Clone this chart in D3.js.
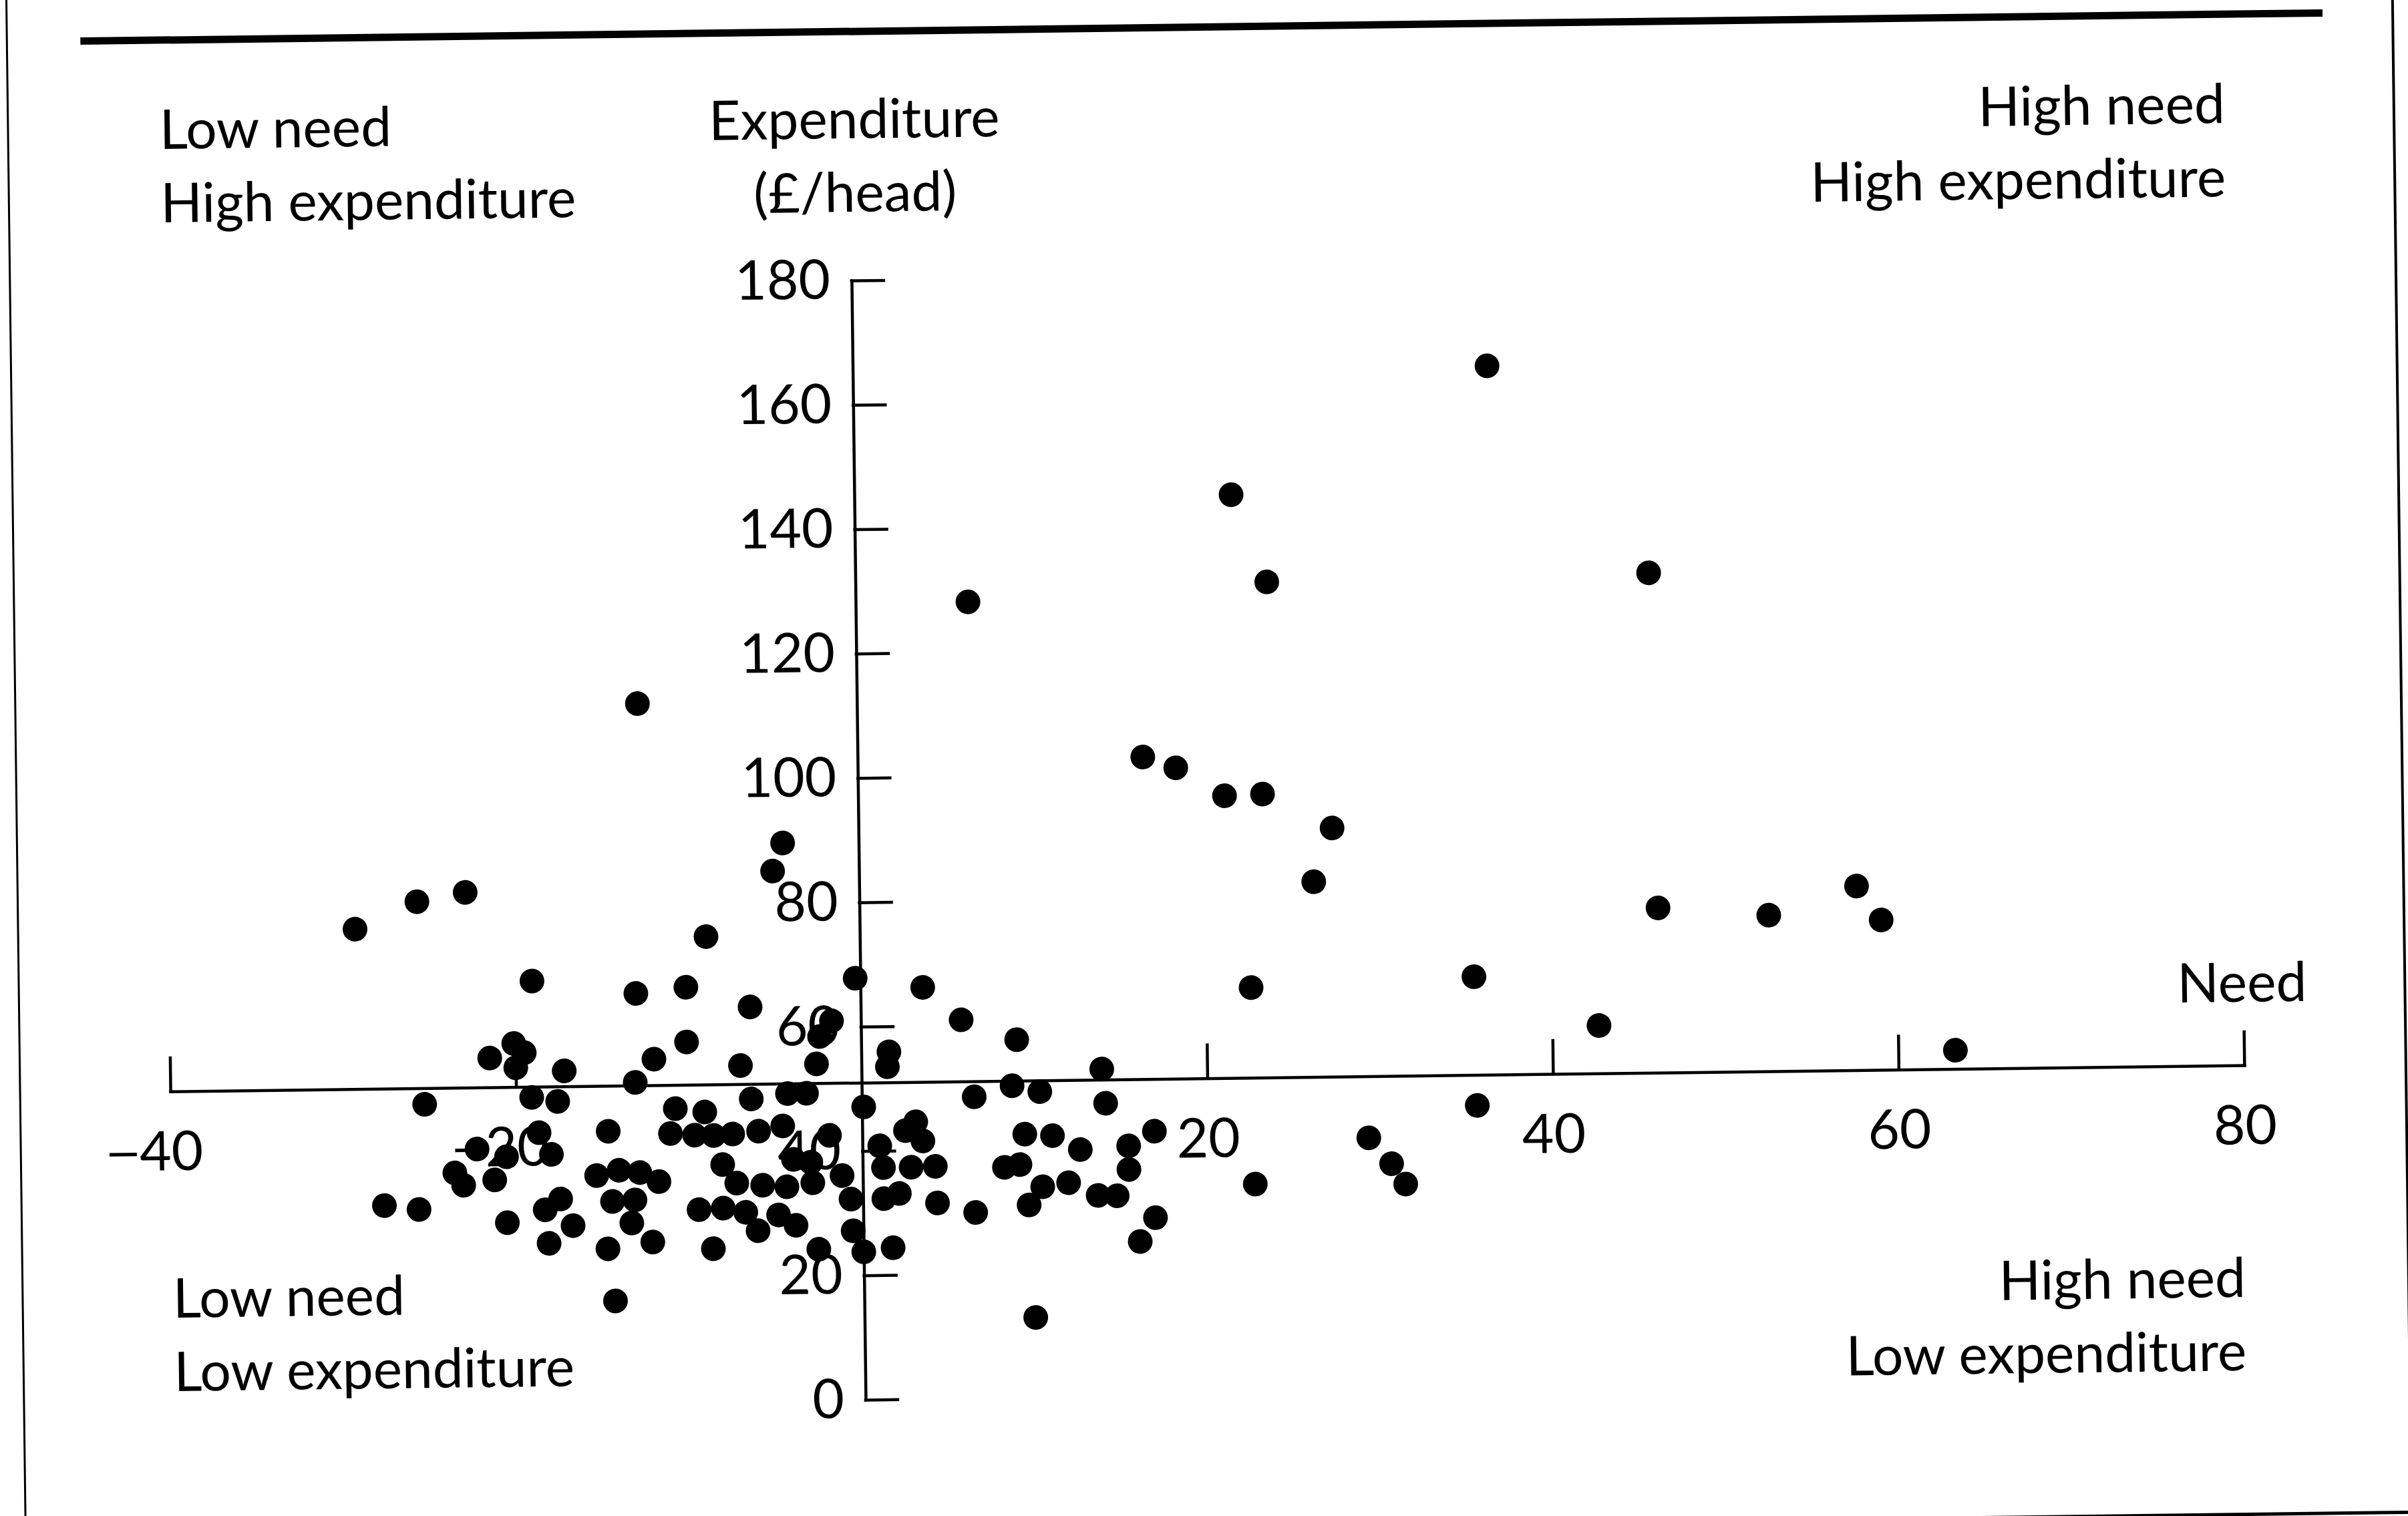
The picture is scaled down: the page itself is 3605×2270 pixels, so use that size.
<!DOCTYPE html>
<html>
<head>
<meta charset="utf-8">
<script src="https://cdn.jsdelivr.net/npm/d3@7/dist/d3.min.js"></script>
<style>
  html, body { margin: 0; padding: 0; background: #fff; }
  svg { display: block; }
  text { font-family: Lato, "Open Sans", sans-serif; fill: #000; }
</style>
</head>
<body>
<div id="chart"></div>
<script>
// ------------------------------------------------------------------ //
// DATA (need score vs expenditure per head, one dot per authority)
// ------------------------------------------------------------------ //

var need = [
  36.7, 21.8, 23.8, 45.9, 6.5, -12.7, 16.5, 18.4, 21.2, 23.4, 27.4, 26.3,
  -4.4, -5.0, -8.9, -29.2, -25.6, -22.8, -19.0, -13.0, -10.1, -0.3, 3.6, 5.8,
  9.0, 13.9, 22.6, 35.5, 35.6, 42.7, 46.2, 52.6, 57.7, 59.1, 63.3, 29.3,
  30.6, 31.4, 22.7, 9.9, -14.4,
  -21.5, -20.1, -19.5, -20.0, -17.2, -13.1, -25.3, -19.1, -17.6, -14.7, -22.3, -20.6,
  -18.7, -18.0, -23.6, -23.1, -21.3, -15.4, -14.1, -27.7, -25.7, -20.6, -18.4, -17.5,
  -16.8, -18.2, -14.5, -13.2, -13.4, -14.8,
  -6.4, -10.1, -12.0, -7.0, -1.7, -2.4, -2.6, 1.6, 1.5, -6.4, -4.3, -3.2,
  0.1, -10.8, -9.1, -11.1, -9.7, -8.6, -7.5, -6.0, -4.6, -1.9, -12.9, -11.8,
  -8.1, -7.3, -5.8, -4.4, -9.5, -8.1, -6.8, -6.1, -4.9, -3.9, -12.2, -8.7, -2.6,
  -4.0, -3.0, -2.9, -1.2, -0.7, 1.0, 1.2, 2.5, 3.1, 3.5, 2.8, 1.2,
  2.1, -0.6, 0.0, 1.7, 4.2, 4.3, 6.5,
  6.5, 8.7, 10.3, 14.1, 9.4, 11.0, 12.6, 16.9, 15.4, 15.4, 16.9, 16.0,
  8.2, 9.1, 10.4, 9.6, 11.9, 13.6, 14.7
]

var spend = [
  165.0, 144.8, 130.7, 131.4, 128.1, 112.4, 102.8, 101.0, 96.4, 96.6, 91.0, 82.4,
  89.7, 85.2, 74.8, 76.7, 81.0, 82.4, 68.0, 65.8, 66.7, 67.8, 66.2, 60.9,
  57.6, 52.7, 65.5, 66.8, 46.1, 58.7, 77.5, 76.1, 80.6, 75.1, 54.0, 41.1,
  36.9, 33.6, 33.9, 12.9, 16.4,
  55.7, 58.0, 56.5, 54.1, 53.5, 51.5, 48.4, 49.3, 48.6, 43.7, 41.1, 39.8,
  43.6, 40.1, 37.3, 35.3, 36.1, 36.6, 37.4, 32.2, 31.5, 29.2, 31.2, 32.9,
  28.6, 25.8, 32.4, 32.6, 28.9, 24.8,
  63.4, 57.9, 55.2, 54.0, 61.0, 58.5, 54.1, 55.9, 53.5, 48.6, 49.4, 49.4,
  47.1, 47.2, 46.6, 43.2, 42.9, 42.8, 43.0, 43.4, 44.2, 42.6, 37.0, 35.5,
  38.1, 35.1, 34.7, 34.4, 30.9, 31.1, 30.4, 27.4, 29.9, 28.2, 25.8, 24.6, 24.3,
  38.8, 38.3, 35.0, 36.1, 32.3, 40.8, 37.3, 43.2, 44.6, 41.5, 37.3, 32.3,
  33.1, 27.2, 23.8, 24.4, 37.4, 31.5, 29.9,
  48.5, 50.2, 49.2, 47.2, 42.4, 42.1, 39.8, 42.6, 40.3, 36.5, 28.7, 24.9,
  37.1, 37.5, 33.9, 31.0, 34.5, 32.4, 32.3
]

// the Need axis crosses the expenditure axis at the average spend
var spendAverage = 51

var needTicks = [-40, -20, 20, 40, 60, 80]
var spendTicks = [0, 20, 40, 60, 80, 100, 120, 140, 160, 180]

var yTitle = ["Expenditure", "(£/head)"]
var xTitle = "Need"
var cornerTopLeft = ["Low need", "High expenditure"]
var cornerTopRight = ["High need", "High expenditure"]
var cornerBottomLeft = ["Low need", "Low expenditure"]
var cornerBottomRight = ["High need", "Low expenditure"]

var points = need.map(function(d, i) { return {need: d, spend: spend[i]} })

// ------------------------------------------------------------------ //
// SVG AREA
// ------------------------------------------------------------------ //

var W = 3605, H = 2270
var fontSize = 82

var svgRoot = d3.select("#chart")
  .append("svg")
    .attr("width", W)
    .attr("height", H)

svgRoot.append("rect")
  .attr("width", W)
  .attr("height", H)
  .attr("fill", "#fff")

// scales
var x = d3.scaleLinear().domain([-40, 80]).range([255, 3360])
var y = d3.scaleLinear().domain([0, 180]).range([2096, 420])

// the scanned page sits a little tilted
var svg = svgRoot.append("g")
  .attr("transform", "rotate(-0.72," + x(0) + "," + y(spendAverage) + ")")

// ------------------------------------------------------------------ //
// PAGE FRAME
// ------------------------------------------------------------------ //

svg.append("line")
  .attr("x1", 140).attr("x2", 3497)
  .attr("y1", 47).attr("y2", 47)
  .attr("stroke", "#000").attr("stroke-width", 11)

svg.append("line")
  .attr("x1", 30).attr("x2", 30)
  .attr("y1", -60).attr("y2", 2400)
  .attr("stroke", "#000").attr("stroke-width", 3)

svg.append("line")
  .attr("x1", 3602).attr("x2", 3602)
  .attr("y1", -60).attr("y2", 2400)
  .attr("stroke", "#000").attr("stroke-width", 4)

svg.append("line")
  .attr("x1", 30).attr("x2", 3602)
  .attr("y1", 2293.5).attr("y2", 2293.5)
  .attr("stroke", "#000").attr("stroke-width", 5)

// ------------------------------------------------------------------ //
// AXES
// ------------------------------------------------------------------ //

// Expenditure axis: ticks to the right, labels on the left
var yAxis = svg.append("g")
  .attr("transform", "translate(" + x(0) + ",0)")
  .call(d3.axisLeft(y)
    .tickValues(spendTicks)
    .tickSize(-48)
    .tickSizeOuter(0)
    .tickPadding(32))

// Need axis: ticks pointing up, labels below
var xAxis = svg.append("g")
  .attr("transform", "translate(0," + y(spendAverage) + ")")
  .call(d3.axisBottom(x)
    .tickValues(needTicks)
    .tickSize(-50)
    .tickSizeOuter(0)
    .tickPadding(60)
    .tickFormat(function(d) { return Math.abs(d) }))

svg.selectAll(".domain, .tick line")
  .attr("stroke", "#000")
  .attr("stroke-width", 4.5)
  .attr("stroke-linecap", "square")

svg.selectAll(".tick text")
  .attr("fill", "#000")
  .style("font-family", "Lato, 'Open Sans', sans-serif")
  .style("font-size", fontSize + "px")

// long minus sign hanging left of the digits
xAxis.selectAll(".tick")
  .filter(function(d) { return d < 0 })
  .each(function() {
    var t = d3.select(this).select("text")
    var w = t.node().getComputedTextLength()
    d3.select(this).append("text")
      .text("–")
      .attr("x", -w / 2 + 4)
      .attr("y", t.attr("y"))
      .attr("dy", t.attr("dy"))
      .attr("text-anchor", "end")
      .style("font-size", fontSize + "px")
      .attr("transform", "scale(1.25,1)")
      .attr("transform-origin", (-w / 2) + "px 0px")
  })

// ------------------------------------------------------------------ //
// LABELS
// ------------------------------------------------------------------ //

function addLines(lines, px, py, anchor) {
  svg.selectAll(null)
    .data(lines)
    .enter()
    .append("text")
      .text(function(d) { return d })
      .attr("x", px)
      .attr("y", function(d, i) { return py + i * 110 })
      .attr("text-anchor", anchor)
      .style("font-size", fontSize + "px")
}

addLines(cornerTopLeft, 257, 210, "start")
addLines(cornerTopRight, 3349, 210, "end")
addLines(cornerBottomLeft, 255, 1960, "start")
addLines(cornerBottomRight, 3358, 1968, "end")
addLines(yTitle, x(0) + 7, 207, "middle")

svg.append("text")
  .text(xTitle)
  .attr("x", 3455)
  .attr("y", 1526)
  .attr("text-anchor", "end")
  .style("font-size", fontSize + "px")

// ------------------------------------------------------------------ //
// DOTS
// ------------------------------------------------------------------ //

svg.selectAll(".dot")
  .data(points)
  .enter()
  .append("circle")
    .attr("class", "dot")
    .attr("cx", function(d) { return x(d.need) })
    .attr("cy", function(d) { return y(d.spend) })
    .attr("r", 18.5)
    .attr("fill", "#000")
</script>
</body>
</html>
